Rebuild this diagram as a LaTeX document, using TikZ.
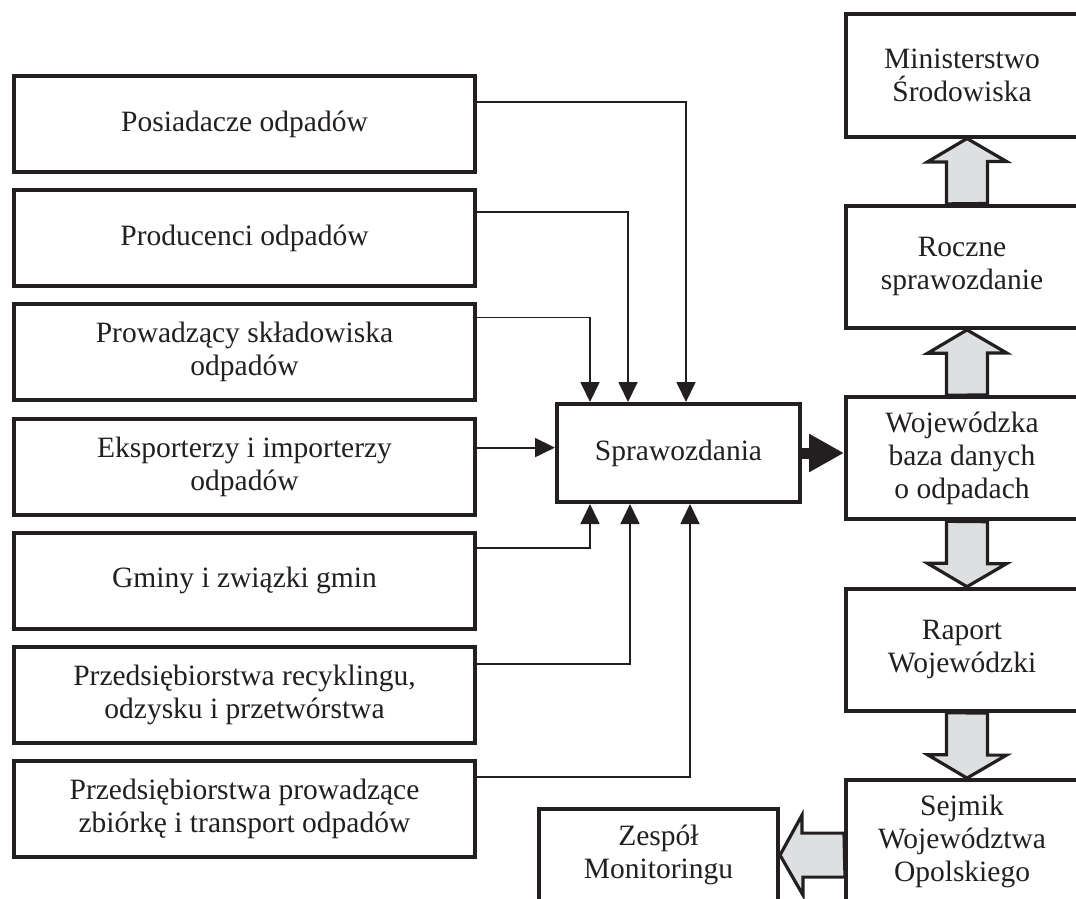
\documentclass[tikz,border=0pt]{standalone}
\usepackage{fontspec}
\setmainfont{Liberation Serif}
\usetikzlibrary{arrows.meta,calc}
\definecolor{ink}{RGB}{35,31,32}
\definecolor{szary}{RGB}{222,223,224}
\tikzset{>={Triangle[length=20pt,width=19pt]}}
\tikzstyle{ramka}=[rectangle,draw=ink,line width=4pt,fill=white,align=center,text=ink,font=\fontsize{29.5}{33}\selectfont]
\tikzstyle{zrodlo}=[ramka,minimum width=461pt,minimum height=96pt]
\tikzstyle{etap}=[ramka,minimum width=232pt,minimum height=122pt]
\tikzstyle{strzalka}=[draw=ink,line width=1.8pt,->]
\tikzstyle{blok}=[draw=ink,fill=szary,line width=3.2pt,line join=miter]

\begin{document}
\begin{tikzpicture}[x=1pt,y=-1pt]
	\useasboundingbox (0,0) rectangle (1076,899);
	\clip (0,0) rectangle (1076,899);
	\def \lx {244.5};
	\def \rx {962};
	\def \dy {114.2};

	% zrodla danych
	\foreach \n/\t [count=\i from 0] in {posiad/{Posiadacze odpadów}, produc/{Producenci odpadów}, skladow/{Prowadzący składowiska\\odpadów}, eksport/{Eksporterzy i importerzy\\odpadów}, gminy/{Gminy i związki gmin}, recykl/{Przedsiębiorstwa recyklingu,\\odzysku i przetwórstwa}, zbiorka/{Przedsiębiorstwa prowadzące\\zbiórkę i transport odpadów}} {
		\node[zrodlo] (\n) at (\lx, 124 + \i*\dy) {\t};
	};

	\node[ramka, minimum width=243pt, minimum height=98pt] (spraw) at (678.5,453) {Sprawozdania};

	\foreach \n/\t [count=\i from 0] in {minist/{Ministerstwo\\Środowiska}, roczne/{Roczne\\sprawozdanie}, baza/{Wojewódzka\\baza danych\\o odpadach}, raport/{Raport\\Wojewódzki}, sejmik/{Sejmik\\Województwa\\Opolskiego}} {
		\node[etap] (\n) at (\rx, 75.5 + \i*191.4) {\t};
	};

	\node[ramka, minimum width=239pt, minimum height=92pt] (zespol) at (658.5,855) {Zespół\\Monitoringu};

	% cienkie strzalki
	\foreach \n/\h/\x in {posiad/22/131, produc/26/73, skladow/35/35} {
		\draw[strzalka] ([yshift=\h]\n.east) -| ([xshift=\x]spraw.north west);
	};
	\foreach \n/\h/\x in {gminy/33/35, recykl/31/75, zbiorka/32/135} {
		\draw[strzalka] ([yshift=\h]\n.east) -| ([xshift=\x]spraw.south west);
	};
	\draw[strzalka] ([yshift=19]eksport.east) coordinate (e) -- (e -| spraw.west);

	\draw[draw=ink, line width=11pt, -{Triangle[length=35pt,width=36pt]}] (spraw.east) -- (spraw.east -| baza.west);

	% grube strzalki
	\foreach \a/\b in {roczne/minist, baza/roczne} {
		\draw[blok] ([xshift=-15.5]\a.north) -- ++(0,-42) -- ++(-19,0) -- ([xshift=5]\b.south) -- ++(39.5,23) -- ++(-19,0) -- ++(0,42) -- cycle;
	};
	\foreach \a/\b in {baza/raport, raport/sejmik} {
		\draw[blok] ([xshift=-15.5]\a.south) -- ++(0,42) -- ++(-19,0) -- ([xshift=5]\b.north) -- ++(39.5,-23) -- ++(-19,0) -- ++(0,-42) -- cycle;
	};
	\draw[blok] ([yshift=8]sejmik.west) -- ++(-42,0) -- ++(0,-18) -- ([yshift=-14]sejmik.west -| zespol.east) -- ++(23,40) -- ++(0,-18) -- ++(42,0) -- cycle;

\end{tikzpicture}
\end{document}
